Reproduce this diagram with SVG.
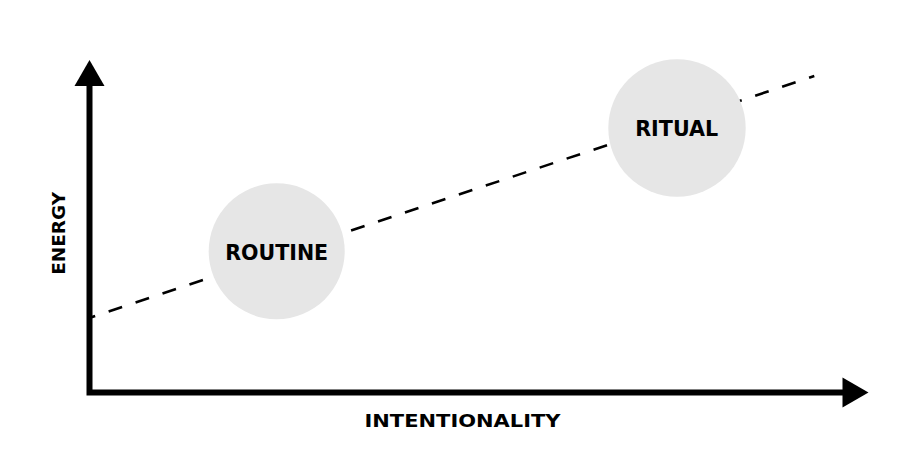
<svg xmlns="http://www.w3.org/2000/svg" width="904" height="470" viewBox="0 0 904 470">
  <style>
    .lbl { font-family: "DejaVu Sans", "Liberation Sans", Arial, sans-serif; font-weight: bold; fill: #000; text-anchor: middle; }
    .node circle { fill: #e6e6e6; stroke: none; }
    .axis { fill: none; stroke: #000; stroke-width: 6; stroke-linejoin: miter; }
    .trend { fill: none; stroke: #000; stroke-width: 2.6; stroke-dasharray: 14.2 14.2; stroke-dashoffset: 7.7; }
  </style>
  <rect width="904" height="470" fill="#fff"/>
  <g id="connectors">
    <line class="trend" x1="89" y1="318" x2="814.3" y2="76"/>
    <path class="axis" d="M89.5,84 V392.5 H845"/>
    <polygon points="89.5,60 104.5,86 74.5,86" fill="#000"/>
    <polygon points="868.5,392.5 842.5,377.5 842.5,407.5" fill="#000"/>
  </g>
  <g id="node-routine" class="node">
    <circle cx="276.7" cy="251.3" r="68"/>
    <text class="lbl" x="276.7" y="260" font-size="20.6" textLength="103" lengthAdjust="spacingAndGlyphs">ROUTINE</text>
  </g>
  <g id="node-ritual" class="node">
    <circle cx="677" cy="128" r="68.7"/>
    <text class="lbl" x="676.7" y="136" font-size="20.6" textLength="83" lengthAdjust="spacingAndGlyphs">RITUAL</text>
  </g>
  <g id="axis-labels">
    <text class="lbl" x="462.5" y="426.5" font-size="18.2" textLength="196" lengthAdjust="spacingAndGlyphs">INTENTIONALITY</text>
    <text class="lbl" transform="translate(65,233.3) rotate(-90)" x="0" y="0" font-size="18.2" textLength="83" lengthAdjust="spacingAndGlyphs">ENERGY</text>
  </g>
</svg>
